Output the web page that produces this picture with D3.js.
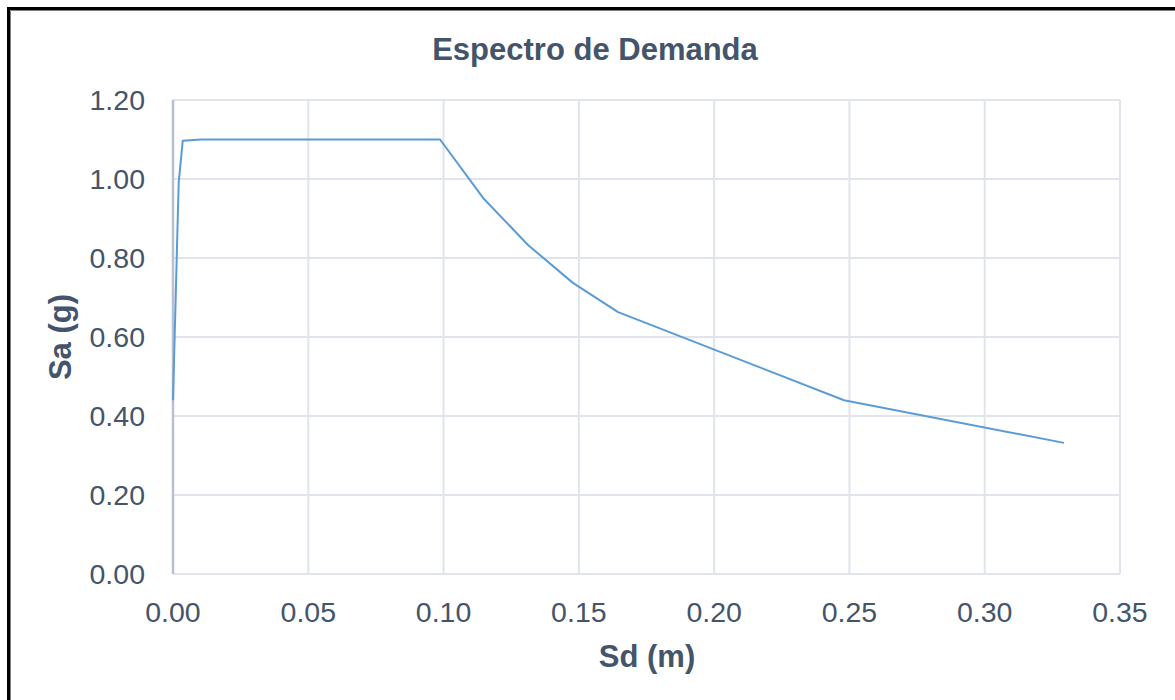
<!DOCTYPE html>
<html><head><meta charset="utf-8">
<script src="https://cdn.jsdelivr.net/npm/d3@7"></script>
<style>
html,body{margin:0;padding:0;background:#fff;}
svg{display:block;font-family:"Liberation Sans",Arial,sans-serif;}
</style></head><body>
<svg id="c" width="1175" height="700"></svg>
<script>
const sd = [0, 0.0021, 0.0036, 0.0105, 0.0987, 0.1146, 0.1312, 0.1478, 0.1645, 0.2480, 0.3293];
const sa = [0.44, 0.99, 1.097, 1.10, 1.10, 0.952, 0.833, 0.737, 0.663, 0.44, 0.332];
const xTicks = [0, 0.05, 0.10, 0.15, 0.20, 0.25, 0.30, 0.35];
const yTicks = [0, 0.2, 0.4, 0.6, 0.8, 1.0, 1.2];
const title = "Espectro de Demanda";
const xTitle = "Sd (m)";
const yTitle = "Sa (g)";

const svg = d3.select("#c");
const L = 173, R = 1120, T = 100, B = 574;
const x = d3.scaleLinear().domain([0, 0.35]).range([L, R]);
const y = d3.scaleLinear().domain([0, 1.2]).range([B, T]);
const txt = "#44546a";

// frame
svg.append("rect").attr("x", 8.5).attr("y", 8.5).attr("width", 1200).attr("height", 800)
  .attr("fill", "none").attr("stroke", "#000").attr("stroke-width", 3);
svg.append("path").attr("d", "M10.5,1175V10.5H1175").attr("fill","none").attr("stroke","#808080").attr("stroke-width",1);

// gridlines
const g = svg.append("g");
g.selectAll(".vg").data(xTicks.slice(1)).join("line")
  .attr("x1", d => x(d)).attr("x2", d => x(d)).attr("y1", T).attr("y2", B)
  .attr("stroke", "#e0e4eb").attr("stroke-width", 2);
g.selectAll(".hg").data(yTicks).join("line")
  .attr("x1", L).attr("x2", R).attr("y1", d => y(d)).attr("y2", d => y(d))
  .attr("stroke", "#e0e4eb").attr("stroke-width", 2);
// left axis line
svg.append("line").attr("x1", L).attr("x2", L).attr("y1", T).attr("y2", B)
  .attr("stroke", "#b9c0cf").attr("stroke-width", 2.5);

// tick labels
svg.selectAll(".xl").data(xTicks).join("text")
  .attr("x", d => x(d)).attr("y", 622).attr("text-anchor", "middle")
  .attr("font-size", 28.5).attr("fill", txt).text(d => d.toFixed(2));
svg.selectAll(".yl").data(yTicks).join("text")
  .attr("x", 145).attr("y", d => y(d) + 10).attr("text-anchor", "end")
  .attr("font-size", 28.5).attr("fill", txt).text(d => d.toFixed(2));

// line
const pts = sd.map((d, i) => [d, sa[i]]);
svg.append("path").datum(pts)
  .attr("d", d3.line().x(d => x(d[0])).y(d => y(d[1])))
  .attr("fill", "none").attr("stroke", "#5b9bd5").attr("stroke-width", 2)
  .attr("stroke-linejoin", "round");

// titles
svg.append("text").attr("x", 595).attr("y", 60).attr("text-anchor", "middle")
  .attr("font-size", 31).attr("font-weight", "bold").attr("fill", txt).text(title);
svg.append("text").attr("x", 647).attr("y", 667).attr("text-anchor", "middle")
  .attr("font-size", 31).attr("font-weight", "bold").attr("fill", txt).text(xTitle);
svg.append("text").attr("transform", "translate(71,337) rotate(-90)").attr("text-anchor", "middle")
  .attr("font-size", 31).attr("font-weight", "bold").attr("fill", txt).text(yTitle);
</script>
</body></html>
